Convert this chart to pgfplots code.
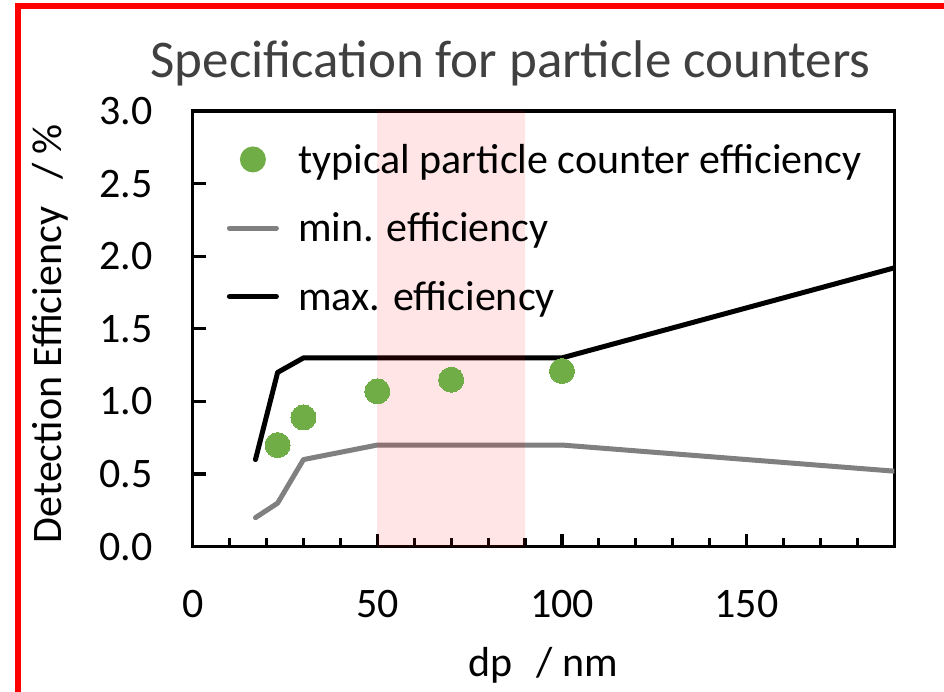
\documentclass[border=0pt]{standalone}
\usepackage{fontspec}
\setmainfont{Carlito}
\usepackage{pgfplots}
\pgfplotsset{compat=1.18}
\definecolor{ptgreen}{HTML}{70AD47}
\definecolor{mingray}{HTML}{808080}
\definecolor{titlegray}{HTML}{404040}
\newcommand{\chartfont}{\fontsize{42}{45}\selectfont}
\begin{document}
\begin{tikzpicture}[x=1pt,y=1pt]
\useasboundingbox (0,0) rectangle (944,692);
\draw[red, line width=6pt] (18,-50) rectangle (1000,686);
\node[anchor=base, text=titlegray, font=\fontsize{53}{60}\selectfont, inner sep=0pt] at (510.5,614.7) {Specification for particle counters};
\begin{axis}[
  at={(192.7pt,145.3pt)}, anchor=south west,
  scale only axis, width=701.6pt, height=435.7pt,
  xmin=0, xmax=190, ymin=0, ymax=3,
  xtick={0,50,100,150}, minor xtick={10,20,...,180},
  ytick={0,0.5,...,3},
  xtick pos=bottom, ytick pos=left, tick align=inside,
  major tick length=13pt, minor tick length=9pt,
  tick style={black, line width=3.2pt},
  axis line style={line width=3.2pt},
  /pgf/number format/assume math mode=true,
  tick label style={font=\chartfont, inner sep=0pt},
  xticklabel style={anchor=north, yshift=-43pt},
  yticklabel style={anchor=east, xshift=-40pt,
    /pgf/number format/fixed, /pgf/number format/fixed zerofill,
    /pgf/number format/precision=1},
  xlabel={dp\hspace{24pt}/ nm},
  ylabel={Detection Efficiency\hspace{27pt}/ \%},
  label style={font=\chartfont, inner sep=0pt},
  xlabel style={at={(axis description cs:0.5,-0.2984)}, anchor=base},
  ylabel style={at={(axis description cs:-0.1863,0.489)}, anchor=base},
  legend style={at={(axis description cs:0.0485,0.929)}, anchor=north west,
    draw=none, fill=none, font=\chartfont, inner sep=0pt, row sep=34pt,
    cells={anchor=west}},
]
\addplot[ptgreen, only marks, mark=*, mark size=12.5pt, mark options={fill=ptgreen, draw=ptgreen, line width=0pt},
  legend image code/.code={\path[draw=none] (0pt,0pt) -- (67pt,0pt); \fill[ptgreen, draw=none] (23.5pt,0pt) circle (13pt);}]
  coordinates {(23,0.70) (30,0.89) (50,1.07) (70,1.15) (100,1.21)};
\addlegendentry{typical particle counter efficiency}
\addplot[mingray, line width=5pt, line join=round, line cap=round,
  legend image code/.code={\path[draw=none] (0pt,0pt) -- (67pt,0pt); \draw[mingray, line width=5pt] (0pt,0pt) -- (47pt,0pt);}]
  coordinates {(17,0.2) (23,0.3) (30,0.6) (50,0.7) (100,0.7) (190,0.52)};
\addlegendentry{min. efficiency}
\addplot[black, line width=5pt, line join=round, line cap=round,
  legend image code/.code={\path[draw=none] (0pt,0pt) -- (67pt,0pt); \draw[black, line width=5pt] (0pt,0pt) -- (47pt,0pt);}]
  coordinates {(17,0.6) (23,1.2) (30,1.3) (100,1.3) (190,1.92)};
\addlegendentry{max. efficiency}
\addplot[fill=red, fill opacity=0.1, draw=none, forget plot]
  coordinates {(50,0) (50,3) (90,3) (90,0)} -- cycle;
\end{axis}
\end{tikzpicture}
\end{document}
